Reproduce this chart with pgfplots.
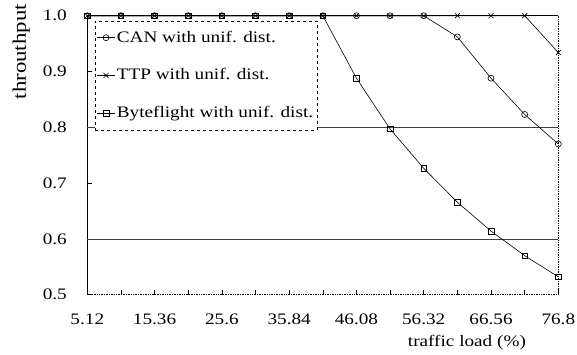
\documentclass[border=0pt]{standalone}
\usepackage{pgfplots}
\pgfplotsset{compat=1.18}
\usepackage{fontspec}
\setmainfont[FakeStretch=1.2]{Liberation Serif}
\begin{document}
\fontsize{16}{19}\selectfont
\begin{tikzpicture}
\begin{axis}[
  scale only axis,
  width=471pt, height=279pt,
  xmin=5.12, xmax=76.8,
  ymin=0.5, ymax=1.0,
  axis line style={draw=none},
  xtick={5.12,10.24,15.36,20.48,25.6,30.72,35.84,40.96,46.08,51.2,56.32,61.44,66.56,71.68,76.8},
  xticklabels={5.12,,15.36,,25.6,,35.84,,46.08,,56.32,,66.56,,76.8},
  ytick={0.5,0.6,0.7,0.8,0.9,1.0},
  yticklabels={0.5,0.6,0.7,0.8,0.9,1.0},
  xtick pos=bottom, ytick pos=left,
  tick align=inside,
  major tick length=5pt,
  tick style={black, line width=0.6pt},
  x tick label style={font=\fontsize{16}{19}\selectfont, yshift=-14pt},
  y tick label style={font=\fontsize{16}{19}\selectfont, xshift=-15pt},
  xlabel={traffic load (\%)},
  xlabel style={font=\fontsize{16}{19}\selectfont, at={(axis description cs:0.806,0)}, anchor=center, yshift=-48pt},
  ylabel={throuthput},
  ylabel style={font=\fontsize{19}{22}\selectfont, at={(axis description cs:0,1)}, anchor=center, xshift=-36pt, yshift=66pt},
  legend style={at={(rel axis cs:0,1)}, anchor=north west, xshift=7.7pt, yshift=-5pt,
    draw=black, dashed, line width=0.4pt, fill=white,
    font=\fontsize{16}{19}\selectfont, row sep=20pt, inner xsep=2pt, inner ysep=8pt,
    nodes={inner xsep=2pt}},
  legend cell align=left,
  legend image code/.code={\draw[solid,mark repeat=2,mark phase=2,#1] plot coordinates {(0cm,0cm) (0.3cm,0cm) (0.6cm,0cm)};},
  clip=false,
]
\draw[line width=0.8pt] (rel axis cs:0,0) -- (rel axis cs:0,1) -- (rel axis cs:1,1);
\draw[densely dotted, line width=0.7pt] (rel axis cs:1,1) -- (rel axis cs:1,0) -- (rel axis cs:0,0);
\draw[line width=0.6pt, black!75] (axis cs:5.12,0.8) -- (axis cs:76.8,0.8);
\draw[line width=0.6pt, black!75] (axis cs:5.12,0.6) -- (axis cs:76.8,0.6);

\addplot[black, line width=0.6pt, mark=o, mark size=3pt, mark options={solid, line width=0.6pt}] coordinates {
(5.12,1) (10.24,1) (15.36,1) (20.48,1) (25.6,1) (30.72,1) (35.84,1) (40.96,1) (46.08,1) (51.2,1) (56.32,1)
(61.44,0.962) (66.56,0.888) (71.68,0.823) (76.8,0.770)};
\addlegendentry{CAN with unif. dist.}
\addplot[black, line width=0.6pt, mark=x, mark size=3.5pt, mark options={solid, line width=0.6pt}] coordinates {
(5.12,1) (10.24,1) (15.36,1) (20.48,1) (25.6,1) (30.72,1) (35.84,1) (40.96,1) (46.08,1) (51.2,1) (56.32,1)
(61.44,1) (66.56,1) (71.68,1) (76.8,0.934)};
\addlegendentry{TTP with unif. dist.}
\addplot[black, line width=0.6pt, mark=square, mark size=2.8pt, mark options={solid, line width=0.6pt}] coordinates {
(5.12,1) (10.24,1) (15.36,1) (20.48,1) (25.6,1) (30.72,1) (35.84,1) (40.96,1)
(46.08,0.888) (51.2,0.797) (56.32,0.7265) (61.44,0.6656) (66.56,0.614) (71.68,0.570) (76.8,0.532)};
\addlegendentry{Byteflight with unif. dist.}
\end{axis}
\pgfresetboundingbox
\path (-87.3pt,-59.3pt) rectangle (489.7pt,294.7pt);
\end{tikzpicture}
\end{document}
